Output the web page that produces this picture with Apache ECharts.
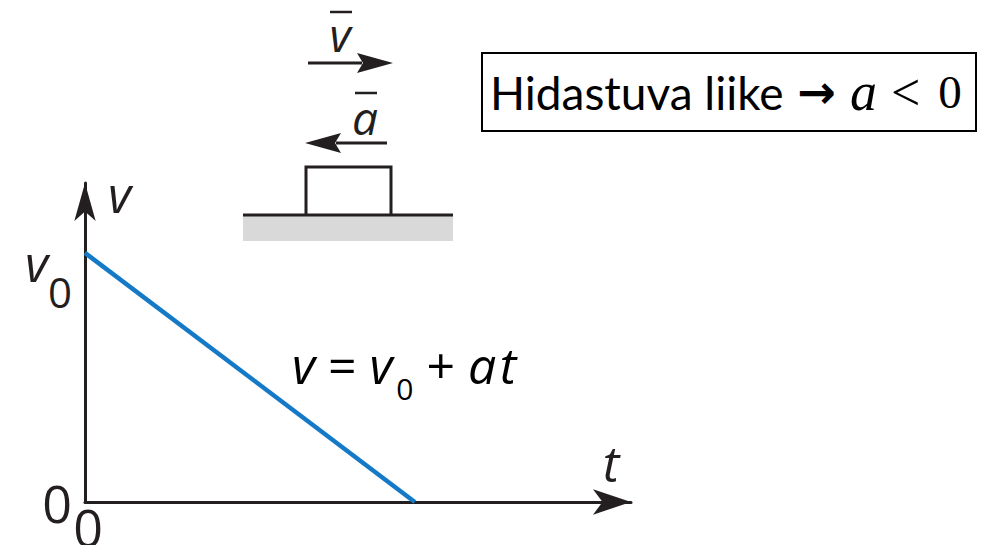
<!DOCTYPE html>
<html>
<head>
<meta charset="utf-8">
<script src="https://cdn.jsdelivr.net/npm/echarts@6/dist/echarts.min.js"></script>
<style>
html,body{margin:0;padding:0;background:#fff;}
#chart{width:1002px;height:545px;}
</style>
</head>
<body>
<div id="chart"></div>
<script>
// ---- data ----
const timeValues = [0, 6.04];
const velocityValues = [7.81, 0];
const xTickValues = [0];
const xTickLabels = ['0'];
const yTickValues = [0, 7.81];
const yTickLabels = ['0', 'v0'];
const xAxisName = 't';
const yAxisName = 'v';

const INK = '#231f20';
const BLUE = '#1479c6';
const ITAL = '"Open Sans", "Noto Sans", sans-serif';

const chart = echarts.init(document.getElementById('chart'), null, {renderer: 'svg'});

const lineData = timeValues.map((t, i) => [t, velocityValues[i]]);

function yLabelFmt(value) {
  const idx = yTickValues.indexOf(value);
  const lab = idx >= 0 ? yTickLabels[idx] : '';
  if (lab === 'v0') return '{v|v}{s|0}';
  return '{z|' + lab + '}';
}

const option = {
  backgroundColor: '#fff',
  animation: false,
  grid: {left: 85, right: 371, top: 183, bottom: 43, outerBoundsMode: 'none', containLabel: false},
  xAxis: {
    type: 'value', min: 0, max: 10,
    splitLine: {show: false},
    axisTick: {show: false},
    axisLine: {show: true, onZero: false, symbol: ['none', 'arrow'], symbolSize: [19, 38],
      lineStyle: {color: INK, width: 3}},
    axisLabel: {
      customValues: xTickValues, margin: -2,
      formatter: v => xTickLabels[xTickValues.indexOf(v)] ?? '',
      color: INK, fontFamily: '"Open Sans", sans-serif', fontSize: 52, verticalAlign: 'top', lineHeight: 52,
      padding: [0, 0, 0, 6]
    },
    name: xAxisName, nameLocation: 'end', nameGap: -1, nameMoveOverlap: false,
    nameTextStyle: {color: INK, fontFamily: ITAL, fontStyle: 'italic', fontSize: 50, lineHeight: 50,
      align: 'center', verticalAlign: 'bottom', padding: [0, 38, 14, 0]}
  },
  yAxis: {
    type: 'value', min: 0, max: 10,
    splitLine: {show: false},
    axisTick: {show: false},
    axisLine: {show: true, onZero: false, symbol: ['none', 'arrow'], symbolSize: [16, 38],
      lineStyle: {color: INK, width: 3}},
    axisLabel: {
      customValues: yTickValues, margin: 13,
      formatter: yLabelFmt,
      color: INK,
      rich: {
        z: {fontFamily: '"Open Sans", sans-serif', fontSize: 52, lineHeight: 52, color: INK},
        v: {fontFamily: ITAL, fontStyle: 'italic', fontSize: 50, lineHeight: 50, verticalAlign: 'top', padding: [10, 0, 0, 0], color: INK},
        s: {fontFamily: '"Open Sans", sans-serif', fontSize: 42, lineHeight: 42, verticalAlign: 'top', padding: [43, 0, 0, 0], color: INK}
      }
    },
    name: yAxisName, nameLocation: 'end', nameGap: -11, nameMoveOverlap: false,
    nameTextStyle: {color: INK, fontFamily: ITAL, fontStyle: 'italic', fontSize: 50, lineHeight: 50,
      align: 'left', verticalAlign: 'middle', padding: [0, 0, 0, 23]}
  },
  series: [{
    type: 'line', data: lineData, symbol: 'none',
    lineStyle: {color: BLUE, width: 4.5}, z: 1
  }],
  graphic: [
    // ground
    {type: 'rect', shape: {x: 243, y: 216, width: 210, height: 25}, style: {fill: '#d9d9d9'}},
    {type: 'line', shape: {x1: 243, y1: 215, x2: 453, y2: 215}, style: {stroke: INK, lineWidth: 3}},
    // block
    {type: 'polyline', shape: {points: [[306, 215], [306, 167], [391, 167], [391, 215]]}, style: {stroke: INK, lineWidth: 3, fill: null}},
    // velocity arrow (right)
    {type: 'line', shape: {x1: 308, y1: 63, x2: 362, y2: 63}, style: {stroke: INK, lineWidth: 3}},
    {type: 'polygon', shape: {points: [[357, 53], [393, 63], [357, 73], [363, 63]]}, style: {fill: INK}},
    // acceleration arrow (left)
    {type: 'line', shape: {x1: 336, y1: 143, x2: 387, y2: 143}, style: {stroke: INK, lineWidth: 3}},
    {type: 'polygon', shape: {points: [[305, 143], [341, 133], [335, 143], [341, 153]]}, style: {fill: INK}},
    // v bar label
    {type: 'text', style: {x: 340, y: 34, text: 'v', fill: INK, font: 'italic 46px "Open Sans", sans-serif', align: 'center', verticalAlign: 'middle'}},
    {type: 'line', shape: {x1: 330, y1: 12, x2: 352, y2: 12}, style: {stroke: INK, lineWidth: 2.5}},
    // a bar label
    {type: 'text', style: {x: 365, y: 117, text: 'a', fill: INK, font: 'italic 46px "Open Sans", sans-serif', align: 'center', verticalAlign: 'middle'}},
    {type: 'line', shape: {x1: 355, y1: 93, x2: 377, y2: 93}, style: {stroke: INK, lineWidth: 2.5}},
    // equation
    {type: 'text', style: {
      x: 292, y: 325, align: 'left', verticalAlign: 'top',
      text: '{m|v}{o| = }{m|v}{g| }{s|0}{o| + }{m|a}{g| }{m|t}',
      rich: {
        m: {fontFamily: ITAL, fontStyle: 'italic', fontSize: 50, lineHeight: 80, color: INK},
        o: {fontFamily: '"Open Sans", sans-serif', fontSize: 50, lineHeight: 80, color: INK},
        g: {fontFamily: '"Open Sans", sans-serif', fontSize: 14, lineHeight: 80, color: INK},
        s: {fontFamily: '"Open Sans", sans-serif', fontSize: 30, lineHeight: 30, verticalAlign: 'top', padding: [48, 0, 0, 0], color: INK}
      }
    }},
    // box
    {type: 'rect', shape: {x: 482, y: 53, width: 494, height: 78}, style: {fill: null, stroke: '#000', lineWidth: 2}},
    {type: 'text', style: {
      x: 490, y: 92, align: 'left', verticalAlign: 'middle',
      text: '{t|Hidastuva liike }{r|→}{m|a}{c|<}{d|0}',
      rich: {
        t: {fontFamily: 'Lato, sans-serif', fontSize: 46, color: '#000'},
        r: {fontFamily: '"DejaVu Sans", sans-serif', fontWeight: 'bold', fontSize: 46, color: '#000', padding: [0, 0, 0, 2]},
        m: {fontFamily: '"Liberation Serif", serif', fontStyle: 'italic', fontSize: 54, color: '#000', padding: [0, 0, 0, 14]},
        c: {fontFamily: '"Liberation Serif", serif', fontSize: 52, color: '#000', padding: [0, 0, 0, 14]},
        d: {fontFamily: '"Liberation Serif", serif', fontSize: 47, color: '#000', padding: [0, 0, 0, 18]}
      }
    }}
  ]
};
chart.setOption(option);
</script>
</body>
</html>
